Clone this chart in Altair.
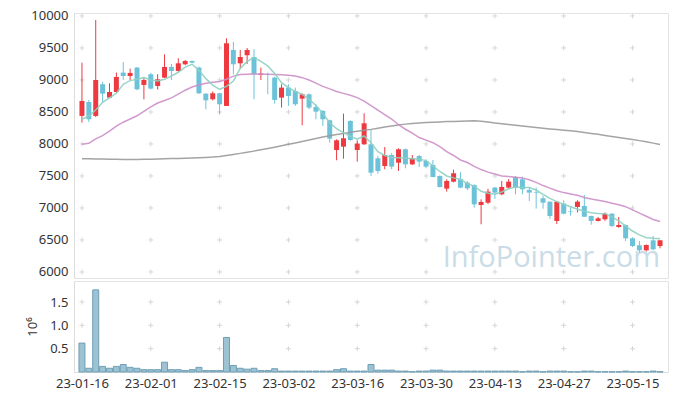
import altair as alt
import pandas as pd

tick_labels = ["23-01-16", "23-02-01", "23-02-15", "23-03-02", "23-03-16",
               "23-03-30", "23-04-13", "23-04-27", "23-05-15"]
price_ticks = [6000, 6500, 7000, 7500, 8000, 8500, 9000, 9500, 10000]
vol_ticks = [0.5, 1.0, 1.5]

opens = [8438, 8656, 8438, 8933, 8724, 8812, 9115, 9062, 9193, 8922,
         9089, 8906, 9036, 9203, 9140, 9245, 9297, 9193, 8786, 8698,
         8792, 8594, 9469, 9260, 9386, 9359, 9078, 9089, 9036, 8724,
         8880, 8828, 8708, 8776, 8578, 8516, 8370, 7906, 7958, 8359,
         7906, 7995, 7995, 7776, 7656, 7828, 7708, 7917, 7682, 7812,
         7734, 7672, 7500, 7302, 7411, 7448, 7396, 7359, 7047, 7083,
         7318, 7214, 7318, 7484, 7448, 7281, 7250, 7151, 7099, 6797,
         7068, 6945, 7016, 7031, 6875, 6797, 6823, 6911, 6703, 6734,
         6526, 6417, 6339, 6495, 6406]
highs = [9270, 8690, 9937, 8969, 8948, 9115, 9281, 9177, 9200, 9036,
         9110, 9090, 9401, 9250, 9339, 9310, 9300, 9210, 8790, 8820,
         8800, 9651, 9594, 9469, 9500, 9479, 9193, 9115, 9050, 8933,
         8933, 8880, 8790, 8790, 8620, 8530, 8380, 8073, 8474, 8370,
         8057, 8479, 8229, 7812, 7953, 7860, 7932, 7930, 7828, 7830,
         7760, 7750, 7510, 7448, 7600, 7560, 7420, 7370, 7135, 7300,
         7330, 7422, 7450, 7500, 7490, 7320, 7320, 7190, 7100, 7110,
         7120, 7010, 7120, 7203, 6880, 6860, 6930, 6920, 6860, 6740,
         6540, 6484, 6430, 6562, 6500]
lows = [8333, 8344, 8420, 8646, 8720, 8800, 9000, 9000, 8840, 8698,
        8850, 8850, 9030, 9000, 9130, 9230, 9260, 8780, 8542, 8680,
        8464, 8594, 9089, 9172, 9250, 8698, 9000, 8776, 8630, 8568,
        8594, 8594, 8292, 8542, 8386, 8281, 8020, 7745, 7770, 8050,
        7724, 7984, 7500, 7536, 7604, 7604, 7578, 7620, 7672, 7640,
        7620, 7480, 7320, 7255, 7400, 7310, 7280, 7005, 6745, 7060,
        7140, 7200, 7300, 7214, 7214, 7109, 6990, 6990, 6828, 6750,
        6900, 6880, 6930, 6860, 6740, 6790, 6800, 6700, 6690, 6484,
        6390, 6300, 6320, 6339, 6370]
closes = [8672, 8386, 9000, 8786, 8812, 9047, 9062, 9110, 8854, 9000,
          8865, 9010, 9203, 9140, 9260, 9297, 9270, 8792, 8682, 8792,
          8620, 9573, 9245, 9359, 9469, 9089, 9100, 9080, 8688, 8880,
          8750, 8620, 8776, 8568, 8505, 8386, 8083, 8057, 8089, 8062,
          8005, 8323, 7552, 7578, 7828, 7646, 7917, 7682, 7776, 7724,
          7646, 7484, 7328, 7422, 7542, 7318, 7307, 7057, 7094, 7255,
          7240, 7328, 7411, 7318, 7292, 7240, 7240, 7083, 6875, 7099,
          6911, 6937, 7099, 6864, 6797, 6838, 6911, 6719, 6734, 6526,
          6406, 6339, 6422, 6354, 6495]
ma5 = [8386, 8437, 8530, 8650, 8720, 8792, 8933, 8990, 9010, 9036,
       9000, 8984, 9010, 9062, 9120, 9200, 9245, 9150, 9020, 8920,
       8854, 8900, 8984, 9180, 9290, 9349, 9290, 9219, 9100, 8958,
       8880, 8820, 8776, 8700, 8600, 8480, 8330, 8240, 8177, 8120,
       8073, 8125, 8020, 7880, 7820, 7790, 7786, 7780, 7770, 7760,
       7740, 7656, 7570, 7500, 7470, 7448, 7380, 7340, 7260, 7230,
       7214, 7250, 7300, 7328, 7320, 7318, 7280, 7214, 7150, 7100,
       7057, 7020, 6979, 6950, 6927, 6915, 6911, 6860, 6797, 6720,
       6640, 6580, 6536, 6526, 6520]
ma20 = [7995, 8010, 8080, 8130, 8200, 8280, 8340, 8390, 8440, 8510,
        8580, 8640, 8680, 8720, 8780, 8840, 8890, 8920, 8950, 8965,
        8975, 9010, 9060, 9085, 9090, 9092, 9090, 9090, 9085, 9080,
        9073, 9060, 9036, 9000, 8950, 8900, 8860, 8820, 8790, 8760,
        8724, 8670, 8600, 8530, 8460, 8390, 8300, 8230, 8170, 8100,
        8060, 8020, 7960, 7880, 7820, 7750, 7710, 7650, 7600, 7560,
        7530, 7500, 7490, 7480, 7470, 7440, 7400, 7350, 7310, 7270,
        7240, 7220, 7200, 7165, 7140, 7120, 7100, 7075, 7050, 7020,
        6970, 6920, 6870, 6820, 6790]
ma120 = [7770, 7768, 7766, 7764, 7762, 7760, 7759, 7758, 7758, 7760,
         7762, 7765, 7768, 7771, 7774, 7778, 7782, 7786, 7790, 7796,
         7805, 7820, 7836, 7853, 7870, 7888, 7908, 7928, 7950, 7972,
         7994, 8016, 8038, 8062, 8085, 8108, 8128, 8148, 8165, 8182,
         8198, 8213, 8228, 8246, 8264, 8282, 8298, 8310, 8320, 8328,
         8335, 8340, 8345, 8349, 8352, 8356, 8359, 8362, 8355, 8342,
         8328, 8315, 8304, 8292, 8281, 8270, 8258, 8247, 8235, 8225,
         8215, 8206, 8195, 8180, 8165, 8150, 8133, 8117, 8100, 8085,
         8070, 8052, 8035, 8013, 7990]
volume_m = [0.62, 0.08, 1.76, 0.12, 0.08, 0.12, 0.16, 0.10, 0.08, 0.05,
            0.05, 0.05, 0.21, 0.05, 0.05, 0.03, 0.05, 0.10, 0.03, 0.03,
            0.03, 0.74, 0.14, 0.08, 0.06, 0.08, 0.03, 0.03, 0.07, 0.02,
            0.02, 0.02, 0.02, 0.02, 0.02, 0.02, 0.02, 0.05, 0.07, 0.02,
            0.02, 0.02, 0.16, 0.04, 0.04, 0.04, 0.02, 0.02, 0.005, 0.02,
            0.02, 0.04, 0.04, 0.02, 0.02, 0.02, 0.02, 0.02, 0.02, 0.02,
            0.02, 0.02, 0.02, 0.02, 0.005, 0.02, 0.02, 0.005, 0.02, 0.02,
            0.02, 0.005, 0.005, 0.02, 0.02, 0.005, 0.005, 0.005, 0.005, 0.02,
            0.005, 0.005, 0.005, 0.02, 0.005]

n = len(closes)
idx = list(range(n))
df = pd.DataFrame({"i": idx, "open": opens, "high": highs, "low": lows,
                   "close": closes, "vol": volume_m})
df["dir"] = ["up" if c > o else "down" for o, c in zip(opens, closes)]

ma_df = pd.concat([
    pd.DataFrame({"i": idx, "v": ma120, "s": "MA120"}),
    pd.DataFrame({"i": idx, "v": ma20, "s": "MA20"}),
    pd.DataFrame({"i": idx, "v": ma5, "s": "MA5"}),
])

x_ticks = list(range(0, n, 10))
grid_price = pd.DataFrame([(x, y) for x in x_ticks for y in price_ticks], columns=["gx", "gy"])
grid_vol = pd.DataFrame([(x, y) for x in x_ticks for y in vol_ticks], columns=["gx", "gy"])

W = 594
xscale = alt.Scale(domain=[-0.43, n - 1 + 0.43], nice=False, zero=False)
pscale = alt.Scale(domain=[5906, 10046], nice=False, zero=False)
vscale = alt.Scale(domain=[0, 1.95], nice=False)

label_js = "[" + ",".join("'" + t + "'" for t in tick_labels) + "]"
cross = "M-1,0L1,0M0,-1L0,1"

paxis = alt.Axis(values=price_ticks, format="d", title=None, labelPadding=6,
                 minExtent=60, maxExtent=60)

base = alt.Chart(df)

watermark = alt.Chart(pd.DataFrame({"t": ["InfoPointer.com"]})).mark_text(
    align="right", baseline="alphabetic", fontSize=29, font="Open Sans",
    color="#c9dce7"
).encode(text="t:N", x=alt.value(586), y=alt.value(254))

pgrid = alt.Chart(grid_price).mark_point(
    shape=cross, size=25, filled=False, color="#d6d6d6", strokeWidth=1, opacity=1
).encode(x=alt.X("gx:Q", scale=xscale, axis=None),
         y=alt.Y("gy:Q", scale=pscale, axis=paxis))

candle_color = alt.Color("dir:N", scale=alt.Scale(domain=["up", "down"],
                                                  range=["#ec3a40", "#6cc3d9"]), legend=None)
wick = base.mark_rule(strokeWidth=1).encode(
    x=alt.X("i:Q", scale=xscale, axis=None),
    y=alt.Y("low:Q", scale=pscale, axis=paxis), y2="high:Q", color=candle_color)
body = base.mark_bar(size=5).encode(
    x=alt.X("i:Q", scale=xscale, axis=None),
    y=alt.Y("open:Q", scale=pscale, axis=paxis), y2="close:Q", color=candle_color)
candles = alt.layer(wick, body)

lines = alt.Chart(ma_df).mark_line(strokeWidth=1.5, opacity=0.9).encode(
    x=alt.X("i:Q", scale=xscale, axis=None),
    y=alt.Y("v:Q", scale=pscale, axis=paxis),
    stroke=alt.Stroke("s:N", scale=alt.Scale(domain=["MA120", "MA20", "MA5"],
                                             range=["#9a9a9a", "#cc8ec9", "#8dd0c2"]),
                      legend=None),
    detail="s:N")

price = alt.layer(watermark, pgrid, candles, lines).resolve_scale(
    color="independent", stroke="independent").properties(width=W, height=265)

vaxis_x = alt.Axis(values=x_ticks, title=None, labelPadding=5,
                   labelExpr=label_js + "[round(datum.value/10)]")
vaxis_y = alt.Axis(values=vol_ticks, format=".1f", title="10⁶",
                   titleX=-35, titleFontWeight="normal", titleFontSize=13,
                   titleColor="#333333", titleFont="Noto Sans",
                   labelPadding=6, minExtent=60, maxExtent=60)

vgrid = alt.Chart(grid_vol).mark_point(
    shape=cross, size=25, filled=False, color="#d6d6d6", strokeWidth=1, opacity=1
).encode(x=alt.X("gx:Q", scale=xscale, axis=vaxis_x),
         y=alt.Y("gy:Q", scale=vscale, axis=vaxis_y))

vbars = base.mark_bar(size=6, fill="#9dc2d2", stroke="#6e9fb6", strokeWidth=1).encode(
    x=alt.X("i:Q", scale=xscale, axis=vaxis_x),
    y=alt.Y("vol:Q", scale=vscale, axis=vaxis_y))

vol = alt.layer(vgrid, vbars).properties(width=W, height=91)

chart = alt.vconcat(price, vol, spacing=0).properties(
    padding={"left": 5, "top": 1, "right": 0, "bottom": 5}
).configure_view(stroke="#e3e3e3").configure_axis(
    domainColor="#dcdcdc", ticks=False, grid=False, labelColor="#333333",
    labelFontSize=13, labelFont="Noto Sans"
)

chart.save("out.html", embed_options={"renderer": "svg", "actions": False})
